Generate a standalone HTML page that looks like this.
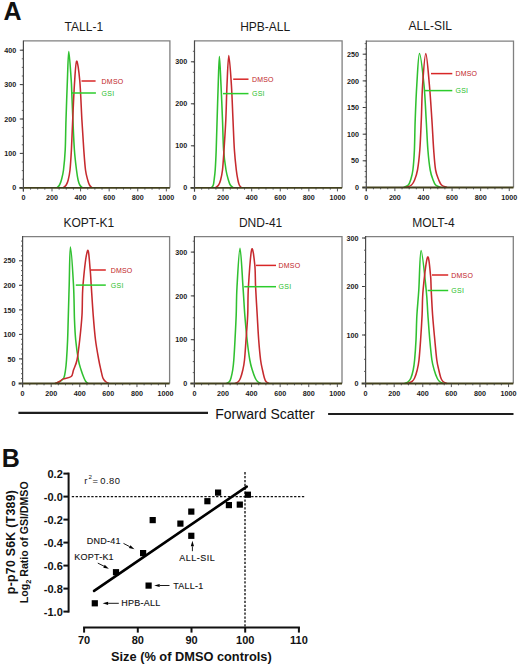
<!DOCTYPE html>
<html><head><meta charset="utf-8"><style>
html,body{margin:0;padding:0;background:#fff;}
body{width:520px;height:666px;overflow:hidden;font-family:"Liberation Sans",sans-serif;}
svg{display:block;}
</style></head><body>
<svg width="520" height="666" viewBox="0 0 520 666">
<rect width="520" height="666" fill="#fff"/>
<text x="3.4" y="19.9" font-family="Liberation Sans, sans-serif" font-size="25" font-weight="bold" fill="#111">A</text>
<g font-family="Liberation Sans, sans-serif">
<text x="64.6" y="30.6" font-size="12" fill="#1a1a1a">TALL-1</text>
<path d="M23.4,40.9 H169.9 V187.8" fill="none" stroke="#808080" stroke-width="1.3"/>
<path d="M57.00,187.80 C57.42,187.33 58.77,186.30 59.50,185.00 C60.23,183.70 60.73,182.50 61.40,180.00 C62.07,177.50 62.87,175.00 63.50,170.00 C64.13,165.00 64.78,158.33 65.20,150.00 C65.62,141.67 65.63,131.67 66.00,120.00 C66.37,108.33 66.93,91.40 67.40,80.00 C67.87,68.60 68.17,51.60 68.80,51.60 C69.43,51.60 70.70,73.10 71.20,80.00 C71.70,86.90 71.52,86.33 71.80,93.00 C72.08,99.67 72.47,110.50 72.90,120.00 C73.33,129.50 73.80,141.67 74.40,150.00 C75.00,158.33 75.88,165.00 76.50,170.00 C77.12,175.00 77.55,177.50 78.10,180.00 C78.65,182.50 79.07,183.70 79.80,185.00 C80.53,186.30 82.05,187.33 82.50,187.80" fill="none" stroke="#30c030" stroke-width="1.55" stroke-linejoin="round"/>
<path d="M63.00,187.80 C63.53,187.33 65.33,186.30 66.20,185.00 C67.07,183.70 67.57,182.50 68.20,180.00 C68.83,177.50 69.47,175.00 70.00,170.00 C70.53,165.00 70.95,158.33 71.40,150.00 C71.85,141.67 72.20,130.83 72.70,120.00 C73.20,109.17 73.75,94.80 74.40,85.00 C75.05,75.20 75.70,61.87 76.60,61.20 C77.50,60.53 78.92,71.20 79.80,81.00 C80.68,90.80 81.23,108.50 81.90,120.00 C82.57,131.50 83.20,141.67 83.80,150.00 C84.40,158.33 84.85,165.00 85.50,170.00 C86.15,175.00 87.03,177.50 87.70,180.00 C88.37,182.50 88.78,183.70 89.50,185.00 C90.22,186.30 91.58,187.33 92.00,187.80" fill="none" stroke="#c62a2e" stroke-width="1.55" stroke-linejoin="round"/>
<line x1="19.4" y1="187.8" x2="169.9" y2="187.8" stroke="#42401c" stroke-width="1.8"/>
<line x1="23.4" y1="40.4" x2="23.4" y2="191.6" stroke="#4a4a4a" stroke-width="1.2"/>
<line x1="19.8" y1="187.8" x2="23.4" y2="187.8" stroke="#3a3a3a" stroke-width="1"/>
<text x="16.2" y="190.4" font-size="7.2" font-weight="bold" text-anchor="end" fill="#1a1a1a">0</text>
<line x1="19.8" y1="153.4" x2="23.4" y2="153.4" stroke="#3a3a3a" stroke-width="1"/>
<text x="16.2" y="156.0" font-size="7.2" font-weight="bold" text-anchor="end" fill="#1a1a1a">100</text>
<line x1="19.8" y1="119.0" x2="23.4" y2="119.0" stroke="#3a3a3a" stroke-width="1"/>
<text x="16.2" y="121.6" font-size="7.2" font-weight="bold" text-anchor="end" fill="#1a1a1a">200</text>
<line x1="19.8" y1="84.6" x2="23.4" y2="84.6" stroke="#3a3a3a" stroke-width="1"/>
<text x="16.2" y="87.2" font-size="7.2" font-weight="bold" text-anchor="end" fill="#1a1a1a">300</text>
<line x1="19.8" y1="50.2" x2="23.4" y2="50.2" stroke="#3a3a3a" stroke-width="1"/>
<text x="16.2" y="52.8" font-size="7.2" font-weight="bold" text-anchor="end" fill="#1a1a1a">400</text>
<line x1="21.8" y1="187.8" x2="23.4" y2="187.8" stroke="#555" stroke-width="0.9"/>
<line x1="21.8" y1="179.2" x2="23.4" y2="179.2" stroke="#555" stroke-width="0.9"/>
<line x1="21.8" y1="170.6" x2="23.4" y2="170.6" stroke="#555" stroke-width="0.9"/>
<line x1="21.8" y1="162.0" x2="23.4" y2="162.0" stroke="#555" stroke-width="0.9"/>
<line x1="21.8" y1="153.4" x2="23.4" y2="153.4" stroke="#555" stroke-width="0.9"/>
<line x1="21.8" y1="144.8" x2="23.4" y2="144.8" stroke="#555" stroke-width="0.9"/>
<line x1="21.8" y1="136.2" x2="23.4" y2="136.2" stroke="#555" stroke-width="0.9"/>
<line x1="21.8" y1="127.6" x2="23.4" y2="127.6" stroke="#555" stroke-width="0.9"/>
<line x1="21.8" y1="119.0" x2="23.4" y2="119.0" stroke="#555" stroke-width="0.9"/>
<line x1="21.8" y1="110.4" x2="23.4" y2="110.4" stroke="#555" stroke-width="0.9"/>
<line x1="21.8" y1="101.8" x2="23.4" y2="101.8" stroke="#555" stroke-width="0.9"/>
<line x1="21.8" y1="93.2" x2="23.4" y2="93.2" stroke="#555" stroke-width="0.9"/>
<line x1="21.8" y1="84.6" x2="23.4" y2="84.6" stroke="#555" stroke-width="0.9"/>
<line x1="21.8" y1="76.0" x2="23.4" y2="76.0" stroke="#555" stroke-width="0.9"/>
<line x1="21.8" y1="67.4" x2="23.4" y2="67.4" stroke="#555" stroke-width="0.9"/>
<line x1="21.8" y1="58.8" x2="23.4" y2="58.8" stroke="#555" stroke-width="0.9"/>
<line x1="21.8" y1="50.2" x2="23.4" y2="50.2" stroke="#555" stroke-width="0.9"/>
<line x1="23.40" y1="187.8" x2="23.40" y2="191.4" stroke="#444" stroke-width="0.9"/>
<text x="23.40" y="200.0" font-size="7.2" font-weight="bold" text-anchor="middle" fill="#1a1a1a">0</text>
<line x1="30.55" y1="187.8" x2="30.55" y2="189.6" stroke="#444" stroke-width="0.9"/>
<line x1="37.70" y1="187.8" x2="37.70" y2="189.6" stroke="#444" stroke-width="0.9"/>
<line x1="44.84" y1="187.8" x2="44.84" y2="189.6" stroke="#444" stroke-width="0.9"/>
<line x1="51.99" y1="187.8" x2="51.99" y2="191.4" stroke="#444" stroke-width="0.9"/>
<text x="51.99" y="200.0" font-size="7.2" font-weight="bold" text-anchor="middle" fill="#1a1a1a">200</text>
<line x1="59.14" y1="187.8" x2="59.14" y2="189.6" stroke="#444" stroke-width="0.9"/>
<line x1="66.28" y1="187.8" x2="66.28" y2="189.6" stroke="#444" stroke-width="0.9"/>
<line x1="73.43" y1="187.8" x2="73.43" y2="189.6" stroke="#444" stroke-width="0.9"/>
<line x1="80.58" y1="187.8" x2="80.58" y2="191.4" stroke="#444" stroke-width="0.9"/>
<text x="80.58" y="200.0" font-size="7.2" font-weight="bold" text-anchor="middle" fill="#1a1a1a">400</text>
<line x1="87.73" y1="187.8" x2="87.73" y2="189.6" stroke="#444" stroke-width="0.9"/>
<line x1="94.88" y1="187.8" x2="94.88" y2="189.6" stroke="#444" stroke-width="0.9"/>
<line x1="102.02" y1="187.8" x2="102.02" y2="189.6" stroke="#444" stroke-width="0.9"/>
<line x1="109.17" y1="187.8" x2="109.17" y2="191.4" stroke="#444" stroke-width="0.9"/>
<text x="109.17" y="200.0" font-size="7.2" font-weight="bold" text-anchor="middle" fill="#1a1a1a">600</text>
<line x1="116.32" y1="187.8" x2="116.32" y2="189.6" stroke="#444" stroke-width="0.9"/>
<line x1="123.47" y1="187.8" x2="123.47" y2="189.6" stroke="#444" stroke-width="0.9"/>
<line x1="130.61" y1="187.8" x2="130.61" y2="189.6" stroke="#444" stroke-width="0.9"/>
<line x1="137.76" y1="187.8" x2="137.76" y2="191.4" stroke="#444" stroke-width="0.9"/>
<text x="137.76" y="200.0" font-size="7.2" font-weight="bold" text-anchor="middle" fill="#1a1a1a">800</text>
<line x1="144.91" y1="187.8" x2="144.91" y2="189.6" stroke="#444" stroke-width="0.9"/>
<line x1="152.06" y1="187.8" x2="152.06" y2="189.6" stroke="#444" stroke-width="0.9"/>
<line x1="159.20" y1="187.8" x2="159.20" y2="189.6" stroke="#444" stroke-width="0.9"/>
<line x1="166.35" y1="187.8" x2="166.35" y2="191.4" stroke="#444" stroke-width="0.9"/>
<text x="166.35" y="200.0" font-size="7.2" font-weight="bold" text-anchor="middle" fill="#1a1a1a">1000</text>
<line x1="81.5" y1="81.0" x2="95.6" y2="81.0" stroke="#d82626" stroke-width="1.5"/>
<text x="101.6" y="84.4" font-size="7" fill="#c01c26" letter-spacing="0.2">DMSO</text>
<line x1="71.0" y1="93.0" x2="95.9" y2="93.0" stroke="#2ccc2c" stroke-width="1.5"/>
<text x="101.6" y="95.6" font-size="7" fill="#28be28" letter-spacing="0.3">GSI</text>
<text x="240.2" y="30.6" font-size="12" fill="#1a1a1a">HPB-ALL</text>
<path d="M194.5,40.9 H342.1 V187.8" fill="none" stroke="#808080" stroke-width="1.3"/>
<path d="M211.50,187.80 C211.80,187.33 212.87,186.30 213.30,185.00 C213.73,183.70 213.78,182.50 214.10,180.00 C214.42,177.50 214.85,175.00 215.20,170.00 C215.55,165.00 215.88,158.33 216.20,150.00 C216.52,141.67 216.77,130.83 217.10,120.00 C217.43,109.17 217.82,95.60 218.20,85.00 C218.58,74.40 218.93,56.40 219.40,56.40 C219.87,56.40 220.48,74.40 221.00,85.00 C221.52,95.60 222.07,109.17 222.50,120.00 C222.93,130.83 223.02,141.67 223.60,150.00 C224.18,158.33 225.20,165.00 226.00,170.00 C226.80,175.00 227.68,177.50 228.40,180.00 C229.12,182.50 229.45,183.70 230.30,185.00 C231.15,186.30 232.97,187.33 233.50,187.80" fill="none" stroke="#30c030" stroke-width="1.55" stroke-linejoin="round"/>
<path d="M215.20,187.80 C215.77,187.33 217.70,186.30 218.60,185.00 C219.50,183.70 219.95,182.50 220.60,180.00 C221.25,177.50 221.93,175.00 222.50,170.00 C223.07,165.00 223.45,158.33 224.00,150.00 C224.55,141.67 225.30,130.83 225.80,120.00 C226.30,109.17 226.50,95.73 227.00,85.00 C227.50,74.27 228.07,55.60 228.80,55.60 C229.53,55.60 230.70,74.27 231.40,85.00 C232.10,95.73 232.50,109.17 233.00,120.00 C233.50,130.83 233.85,141.67 234.40,150.00 C234.95,158.33 235.72,165.00 236.30,170.00 C236.88,175.00 237.40,177.50 237.90,180.00 C238.40,182.50 238.70,183.70 239.30,185.00 C239.90,186.30 241.13,187.33 241.50,187.80" fill="none" stroke="#c62a2e" stroke-width="1.55" stroke-linejoin="round"/>
<line x1="190.5" y1="187.8" x2="342.1" y2="187.8" stroke="#42401c" stroke-width="1.8"/>
<line x1="194.5" y1="40.4" x2="194.5" y2="191.6" stroke="#4a4a4a" stroke-width="1.2"/>
<line x1="190.9" y1="187.8" x2="194.5" y2="187.8" stroke="#3a3a3a" stroke-width="1"/>
<text x="187.3" y="190.4" font-size="7.2" font-weight="bold" text-anchor="end" fill="#1a1a1a">0</text>
<line x1="190.9" y1="145.8" x2="194.5" y2="145.8" stroke="#3a3a3a" stroke-width="1"/>
<text x="187.3" y="148.4" font-size="7.2" font-weight="bold" text-anchor="end" fill="#1a1a1a">100</text>
<line x1="190.9" y1="103.8" x2="194.5" y2="103.8" stroke="#3a3a3a" stroke-width="1"/>
<text x="187.3" y="106.4" font-size="7.2" font-weight="bold" text-anchor="end" fill="#1a1a1a">200</text>
<line x1="190.9" y1="61.8" x2="194.5" y2="61.8" stroke="#3a3a3a" stroke-width="1"/>
<text x="187.3" y="64.4" font-size="7.2" font-weight="bold" text-anchor="end" fill="#1a1a1a">300</text>
<line x1="192.9" y1="187.8" x2="194.5" y2="187.8" stroke="#555" stroke-width="0.9"/>
<line x1="192.9" y1="177.3" x2="194.5" y2="177.3" stroke="#555" stroke-width="0.9"/>
<line x1="192.9" y1="166.8" x2="194.5" y2="166.8" stroke="#555" stroke-width="0.9"/>
<line x1="192.9" y1="156.3" x2="194.5" y2="156.3" stroke="#555" stroke-width="0.9"/>
<line x1="192.9" y1="145.8" x2="194.5" y2="145.8" stroke="#555" stroke-width="0.9"/>
<line x1="192.9" y1="135.3" x2="194.5" y2="135.3" stroke="#555" stroke-width="0.9"/>
<line x1="192.9" y1="124.8" x2="194.5" y2="124.8" stroke="#555" stroke-width="0.9"/>
<line x1="192.9" y1="114.3" x2="194.5" y2="114.3" stroke="#555" stroke-width="0.9"/>
<line x1="192.9" y1="103.8" x2="194.5" y2="103.8" stroke="#555" stroke-width="0.9"/>
<line x1="192.9" y1="93.3" x2="194.5" y2="93.3" stroke="#555" stroke-width="0.9"/>
<line x1="192.9" y1="82.8" x2="194.5" y2="82.8" stroke="#555" stroke-width="0.9"/>
<line x1="192.9" y1="72.3" x2="194.5" y2="72.3" stroke="#555" stroke-width="0.9"/>
<line x1="192.9" y1="61.8" x2="194.5" y2="61.8" stroke="#555" stroke-width="0.9"/>
<line x1="192.9" y1="51.3" x2="194.5" y2="51.3" stroke="#555" stroke-width="0.9"/>
<line x1="194.50" y1="187.8" x2="194.50" y2="191.4" stroke="#444" stroke-width="0.9"/>
<text x="194.50" y="200.0" font-size="7.2" font-weight="bold" text-anchor="middle" fill="#1a1a1a">0</text>
<line x1="201.65" y1="187.8" x2="201.65" y2="189.6" stroke="#444" stroke-width="0.9"/>
<line x1="208.79" y1="187.8" x2="208.79" y2="189.6" stroke="#444" stroke-width="0.9"/>
<line x1="215.94" y1="187.8" x2="215.94" y2="189.6" stroke="#444" stroke-width="0.9"/>
<line x1="223.09" y1="187.8" x2="223.09" y2="191.4" stroke="#444" stroke-width="0.9"/>
<text x="223.09" y="200.0" font-size="7.2" font-weight="bold" text-anchor="middle" fill="#1a1a1a">200</text>
<line x1="230.24" y1="187.8" x2="230.24" y2="189.6" stroke="#444" stroke-width="0.9"/>
<line x1="237.38" y1="187.8" x2="237.38" y2="189.6" stroke="#444" stroke-width="0.9"/>
<line x1="244.53" y1="187.8" x2="244.53" y2="189.6" stroke="#444" stroke-width="0.9"/>
<line x1="251.68" y1="187.8" x2="251.68" y2="191.4" stroke="#444" stroke-width="0.9"/>
<text x="251.68" y="200.0" font-size="7.2" font-weight="bold" text-anchor="middle" fill="#1a1a1a">400</text>
<line x1="258.83" y1="187.8" x2="258.83" y2="189.6" stroke="#444" stroke-width="0.9"/>
<line x1="265.98" y1="187.8" x2="265.98" y2="189.6" stroke="#444" stroke-width="0.9"/>
<line x1="273.12" y1="187.8" x2="273.12" y2="189.6" stroke="#444" stroke-width="0.9"/>
<line x1="280.27" y1="187.8" x2="280.27" y2="191.4" stroke="#444" stroke-width="0.9"/>
<text x="280.27" y="200.0" font-size="7.2" font-weight="bold" text-anchor="middle" fill="#1a1a1a">600</text>
<line x1="287.42" y1="187.8" x2="287.42" y2="189.6" stroke="#444" stroke-width="0.9"/>
<line x1="294.56" y1="187.8" x2="294.56" y2="189.6" stroke="#444" stroke-width="0.9"/>
<line x1="301.71" y1="187.8" x2="301.71" y2="189.6" stroke="#444" stroke-width="0.9"/>
<line x1="308.86" y1="187.8" x2="308.86" y2="191.4" stroke="#444" stroke-width="0.9"/>
<text x="308.86" y="200.0" font-size="7.2" font-weight="bold" text-anchor="middle" fill="#1a1a1a">800</text>
<line x1="316.01" y1="187.8" x2="316.01" y2="189.6" stroke="#444" stroke-width="0.9"/>
<line x1="323.15" y1="187.8" x2="323.15" y2="189.6" stroke="#444" stroke-width="0.9"/>
<line x1="330.30" y1="187.8" x2="330.30" y2="189.6" stroke="#444" stroke-width="0.9"/>
<line x1="337.45" y1="187.8" x2="337.45" y2="191.4" stroke="#444" stroke-width="0.9"/>
<text x="337.45" y="200.0" font-size="7.2" font-weight="bold" text-anchor="middle" fill="#1a1a1a">1000</text>
<line x1="233.2" y1="79.2" x2="248.5" y2="79.2" stroke="#d82626" stroke-width="1.5"/>
<text x="251.9" y="81.8" font-size="7" fill="#c01c26" letter-spacing="0.2">DMSO</text>
<line x1="223.0" y1="93.6" x2="248.5" y2="93.6" stroke="#2ccc2c" stroke-width="1.5"/>
<text x="251.9" y="96.2" font-size="7" fill="#28be28" letter-spacing="0.3">GSI</text>
<text x="408.6" y="30.4" font-size="12" fill="#1a1a1a">ALL-SIL</text>
<path d="M366.3,41.1 H513.5 V187.5" fill="none" stroke="#808080" stroke-width="1.3"/>
<path d="M403.80,187.50 C404.55,187.08 407.17,186.25 408.30,185.00 C409.43,183.75 409.83,182.50 410.60,180.00 C411.37,177.50 412.27,175.00 412.90,170.00 C413.53,165.00 414.02,158.33 414.40,150.00 C414.78,141.67 414.80,130.83 415.20,120.00 C415.60,109.17 416.08,96.10 416.80,85.00 C417.52,73.90 418.30,53.40 419.50,53.40 C420.70,53.40 422.88,73.90 424.00,85.00 C425.12,96.10 425.55,109.17 426.20,120.00 C426.85,130.83 427.23,141.67 427.90,150.00 C428.57,158.33 429.33,165.00 430.20,170.00 C431.07,175.00 432.20,177.50 433.10,180.00 C434.00,182.50 434.38,183.75 435.60,185.00 C436.82,186.25 439.60,187.08 440.40,187.50" fill="none" stroke="#30c030" stroke-width="1.55" stroke-linejoin="round"/>
<path d="M406.00,187.50 C406.92,187.08 410.07,186.25 411.50,185.00 C412.93,183.75 413.60,182.50 414.60,180.00 C415.60,177.50 416.63,175.00 417.50,170.00 C418.37,165.00 419.17,158.33 419.80,150.00 C420.43,141.67 420.83,130.83 421.30,120.00 C421.77,109.17 421.85,96.07 422.60,85.00 C423.35,73.93 424.67,53.60 425.80,53.60 C426.93,53.60 428.38,73.93 429.40,85.00 C430.42,96.07 431.18,109.17 431.90,120.00 C432.62,130.83 433.08,141.67 433.70,150.00 C434.32,158.33 434.75,165.00 435.60,170.00 C436.45,175.00 437.82,177.50 438.80,180.00 C439.78,182.50 440.13,183.75 441.50,185.00 C442.87,186.25 446.08,187.08 447.00,187.50" fill="none" stroke="#c62a2e" stroke-width="1.55" stroke-linejoin="round"/>
<line x1="362.3" y1="187.5" x2="513.5" y2="187.5" stroke="#42401c" stroke-width="1.8"/>
<line x1="366.3" y1="40.6" x2="366.3" y2="191.3" stroke="#4a4a4a" stroke-width="1.2"/>
<line x1="362.7" y1="187.5" x2="366.3" y2="187.5" stroke="#3a3a3a" stroke-width="1"/>
<text x="359.1" y="190.1" font-size="7.2" font-weight="bold" text-anchor="end" fill="#1a1a1a">0</text>
<line x1="362.7" y1="160.8" x2="366.3" y2="160.8" stroke="#3a3a3a" stroke-width="1"/>
<text x="359.1" y="163.4" font-size="7.2" font-weight="bold" text-anchor="end" fill="#1a1a1a">50</text>
<line x1="362.7" y1="134.2" x2="366.3" y2="134.2" stroke="#3a3a3a" stroke-width="1"/>
<text x="359.1" y="136.8" font-size="7.2" font-weight="bold" text-anchor="end" fill="#1a1a1a">100</text>
<line x1="362.7" y1="107.5" x2="366.3" y2="107.5" stroke="#3a3a3a" stroke-width="1"/>
<text x="359.1" y="110.1" font-size="7.2" font-weight="bold" text-anchor="end" fill="#1a1a1a">150</text>
<line x1="362.7" y1="80.9" x2="366.3" y2="80.9" stroke="#3a3a3a" stroke-width="1"/>
<text x="359.1" y="83.5" font-size="7.2" font-weight="bold" text-anchor="end" fill="#1a1a1a">200</text>
<line x1="362.7" y1="54.2" x2="366.3" y2="54.2" stroke="#3a3a3a" stroke-width="1"/>
<text x="359.1" y="56.9" font-size="7.2" font-weight="bold" text-anchor="end" fill="#1a1a1a">250</text>
<line x1="364.7" y1="187.5" x2="366.3" y2="187.5" stroke="#555" stroke-width="0.9"/>
<line x1="364.7" y1="182.2" x2="366.3" y2="182.2" stroke="#555" stroke-width="0.9"/>
<line x1="364.7" y1="176.8" x2="366.3" y2="176.8" stroke="#555" stroke-width="0.9"/>
<line x1="364.7" y1="171.5" x2="366.3" y2="171.5" stroke="#555" stroke-width="0.9"/>
<line x1="364.7" y1="166.2" x2="366.3" y2="166.2" stroke="#555" stroke-width="0.9"/>
<line x1="364.7" y1="160.8" x2="366.3" y2="160.8" stroke="#555" stroke-width="0.9"/>
<line x1="364.7" y1="155.5" x2="366.3" y2="155.5" stroke="#555" stroke-width="0.9"/>
<line x1="364.7" y1="150.2" x2="366.3" y2="150.2" stroke="#555" stroke-width="0.9"/>
<line x1="364.7" y1="144.9" x2="366.3" y2="144.9" stroke="#555" stroke-width="0.9"/>
<line x1="364.7" y1="139.5" x2="366.3" y2="139.5" stroke="#555" stroke-width="0.9"/>
<line x1="364.7" y1="134.2" x2="366.3" y2="134.2" stroke="#555" stroke-width="0.9"/>
<line x1="364.7" y1="128.9" x2="366.3" y2="128.9" stroke="#555" stroke-width="0.9"/>
<line x1="364.7" y1="123.5" x2="366.3" y2="123.5" stroke="#555" stroke-width="0.9"/>
<line x1="364.7" y1="118.2" x2="366.3" y2="118.2" stroke="#555" stroke-width="0.9"/>
<line x1="364.7" y1="112.9" x2="366.3" y2="112.9" stroke="#555" stroke-width="0.9"/>
<line x1="364.7" y1="107.5" x2="366.3" y2="107.5" stroke="#555" stroke-width="0.9"/>
<line x1="364.7" y1="102.2" x2="366.3" y2="102.2" stroke="#555" stroke-width="0.9"/>
<line x1="364.7" y1="96.9" x2="366.3" y2="96.9" stroke="#555" stroke-width="0.9"/>
<line x1="364.7" y1="91.6" x2="366.3" y2="91.6" stroke="#555" stroke-width="0.9"/>
<line x1="364.7" y1="86.2" x2="366.3" y2="86.2" stroke="#555" stroke-width="0.9"/>
<line x1="364.7" y1="80.9" x2="366.3" y2="80.9" stroke="#555" stroke-width="0.9"/>
<line x1="364.7" y1="75.6" x2="366.3" y2="75.6" stroke="#555" stroke-width="0.9"/>
<line x1="364.7" y1="70.2" x2="366.3" y2="70.2" stroke="#555" stroke-width="0.9"/>
<line x1="364.7" y1="64.9" x2="366.3" y2="64.9" stroke="#555" stroke-width="0.9"/>
<line x1="364.7" y1="59.6" x2="366.3" y2="59.6" stroke="#555" stroke-width="0.9"/>
<line x1="364.7" y1="54.2" x2="366.3" y2="54.2" stroke="#555" stroke-width="0.9"/>
<line x1="364.7" y1="48.9" x2="366.3" y2="48.9" stroke="#555" stroke-width="0.9"/>
<line x1="364.7" y1="43.6" x2="366.3" y2="43.6" stroke="#555" stroke-width="0.9"/>
<line x1="366.30" y1="187.5" x2="366.30" y2="191.1" stroke="#444" stroke-width="0.9"/>
<text x="366.30" y="199.7" font-size="7.2" font-weight="bold" text-anchor="middle" fill="#1a1a1a">0</text>
<line x1="373.45" y1="187.5" x2="373.45" y2="189.3" stroke="#444" stroke-width="0.9"/>
<line x1="380.60" y1="187.5" x2="380.60" y2="189.3" stroke="#444" stroke-width="0.9"/>
<line x1="387.74" y1="187.5" x2="387.74" y2="189.3" stroke="#444" stroke-width="0.9"/>
<line x1="394.89" y1="187.5" x2="394.89" y2="191.1" stroke="#444" stroke-width="0.9"/>
<text x="394.89" y="199.7" font-size="7.2" font-weight="bold" text-anchor="middle" fill="#1a1a1a">200</text>
<line x1="402.04" y1="187.5" x2="402.04" y2="189.3" stroke="#444" stroke-width="0.9"/>
<line x1="409.19" y1="187.5" x2="409.19" y2="189.3" stroke="#444" stroke-width="0.9"/>
<line x1="416.33" y1="187.5" x2="416.33" y2="189.3" stroke="#444" stroke-width="0.9"/>
<line x1="423.48" y1="187.5" x2="423.48" y2="191.1" stroke="#444" stroke-width="0.9"/>
<text x="423.48" y="199.7" font-size="7.2" font-weight="bold" text-anchor="middle" fill="#1a1a1a">400</text>
<line x1="430.63" y1="187.5" x2="430.63" y2="189.3" stroke="#444" stroke-width="0.9"/>
<line x1="437.77" y1="187.5" x2="437.77" y2="189.3" stroke="#444" stroke-width="0.9"/>
<line x1="444.92" y1="187.5" x2="444.92" y2="189.3" stroke="#444" stroke-width="0.9"/>
<line x1="452.07" y1="187.5" x2="452.07" y2="191.1" stroke="#444" stroke-width="0.9"/>
<text x="452.07" y="199.7" font-size="7.2" font-weight="bold" text-anchor="middle" fill="#1a1a1a">600</text>
<line x1="459.22" y1="187.5" x2="459.22" y2="189.3" stroke="#444" stroke-width="0.9"/>
<line x1="466.37" y1="187.5" x2="466.37" y2="189.3" stroke="#444" stroke-width="0.9"/>
<line x1="473.51" y1="187.5" x2="473.51" y2="189.3" stroke="#444" stroke-width="0.9"/>
<line x1="480.66" y1="187.5" x2="480.66" y2="191.1" stroke="#444" stroke-width="0.9"/>
<text x="480.66" y="199.7" font-size="7.2" font-weight="bold" text-anchor="middle" fill="#1a1a1a">800</text>
<line x1="487.81" y1="187.5" x2="487.81" y2="189.3" stroke="#444" stroke-width="0.9"/>
<line x1="494.96" y1="187.5" x2="494.96" y2="189.3" stroke="#444" stroke-width="0.9"/>
<line x1="502.10" y1="187.5" x2="502.10" y2="189.3" stroke="#444" stroke-width="0.9"/>
<line x1="509.25" y1="187.5" x2="509.25" y2="191.1" stroke="#444" stroke-width="0.9"/>
<text x="509.25" y="199.7" font-size="7.2" font-weight="bold" text-anchor="middle" fill="#1a1a1a">1000</text>
<line x1="431.0" y1="73.6" x2="452.3" y2="73.6" stroke="#d82626" stroke-width="1.5"/>
<text x="455.4" y="76.2" font-size="7" fill="#c01c26" letter-spacing="0.2">DMSO</text>
<line x1="424.6" y1="90.6" x2="452.3" y2="90.6" stroke="#2ccc2c" stroke-width="1.5"/>
<text x="455.4" y="93.2" font-size="7" fill="#28be28" letter-spacing="0.3">GSI</text>
<text x="63.5" y="226.9" font-size="12" fill="#1a1a1a">KOPT-K1</text>
<path d="M22.6,236.6 H169.6 V383.5" fill="none" stroke="#808080" stroke-width="1.3"/>
<path d="M55.00,383.50 C55.83,383.17 58.53,382.42 60.00,381.50 C61.47,380.58 62.88,379.92 63.80,378.00 C64.72,376.08 65.05,373.00 65.50,370.00 C65.95,367.00 66.15,365.00 66.50,360.00 C66.85,355.00 67.32,346.67 67.60,340.00 C67.88,333.33 67.93,329.17 68.20,320.00 C68.47,310.83 68.83,297.18 69.20,285.00 C69.57,272.82 69.68,246.90 70.40,246.90 C71.12,246.90 72.82,272.82 73.50,285.00 C74.18,297.18 74.13,310.83 74.50,320.00 C74.87,329.17 75.05,333.33 75.70,340.00 C76.35,346.67 77.50,355.00 78.40,360.00 C79.30,365.00 80.17,367.00 81.10,370.00 C82.03,373.00 83.22,376.08 84.00,378.00 C84.78,379.92 85.13,380.58 85.80,381.50 C86.47,382.42 87.63,383.17 88.00,383.50" fill="none" stroke="#30c030" stroke-width="1.55" stroke-linejoin="round"/>
<path d="M55.00,383.50 C55.75,383.17 58.13,382.27 59.50,381.50 C60.87,380.73 61.25,379.73 63.20,378.90 C65.15,378.07 69.48,377.98 71.20,376.50 C72.92,375.02 72.53,372.75 73.50,370.00 C74.47,367.25 75.97,365.00 77.00,360.00 C78.03,355.00 78.87,347.50 79.70,340.00 C80.53,332.50 81.45,324.17 82.00,315.00 C82.55,305.83 82.07,295.75 83.00,285.00 C83.93,274.25 86.40,253.00 87.60,250.50 C88.80,248.00 89.60,264.25 90.20,270.00 C90.80,275.75 90.70,277.50 91.20,285.00 C91.70,292.50 92.48,305.83 93.20,315.00 C93.92,324.17 94.57,332.50 95.50,340.00 C96.43,347.50 97.90,355.00 98.80,360.00 C99.70,365.00 100.22,367.00 100.90,370.00 C101.58,373.00 102.13,376.08 102.90,378.00 C103.67,379.92 104.48,380.58 105.50,381.50 C106.52,382.42 108.42,383.17 109.00,383.50" fill="none" stroke="#c62a2e" stroke-width="1.55" stroke-linejoin="round"/>
<line x1="18.6" y1="383.5" x2="169.6" y2="383.5" stroke="#42401c" stroke-width="1.8"/>
<line x1="22.6" y1="236.1" x2="22.6" y2="387.3" stroke="#4a4a4a" stroke-width="1.2"/>
<line x1="19.0" y1="383.5" x2="22.6" y2="383.5" stroke="#3a3a3a" stroke-width="1"/>
<text x="15.4" y="386.1" font-size="7.2" font-weight="bold" text-anchor="end" fill="#1a1a1a">0</text>
<line x1="19.0" y1="358.9" x2="22.6" y2="358.9" stroke="#3a3a3a" stroke-width="1"/>
<text x="15.4" y="361.6" font-size="7.2" font-weight="bold" text-anchor="end" fill="#1a1a1a">50</text>
<line x1="19.0" y1="334.4" x2="22.6" y2="334.4" stroke="#3a3a3a" stroke-width="1"/>
<text x="15.4" y="337.0" font-size="7.2" font-weight="bold" text-anchor="end" fill="#1a1a1a">100</text>
<line x1="19.0" y1="309.9" x2="22.6" y2="309.9" stroke="#3a3a3a" stroke-width="1"/>
<text x="15.4" y="312.5" font-size="7.2" font-weight="bold" text-anchor="end" fill="#1a1a1a">150</text>
<line x1="19.0" y1="285.3" x2="22.6" y2="285.3" stroke="#3a3a3a" stroke-width="1"/>
<text x="15.4" y="287.9" font-size="7.2" font-weight="bold" text-anchor="end" fill="#1a1a1a">200</text>
<line x1="19.0" y1="260.8" x2="22.6" y2="260.8" stroke="#3a3a3a" stroke-width="1"/>
<text x="15.4" y="263.4" font-size="7.2" font-weight="bold" text-anchor="end" fill="#1a1a1a">250</text>
<line x1="21.0" y1="383.5" x2="22.6" y2="383.5" stroke="#555" stroke-width="0.9"/>
<line x1="21.0" y1="378.6" x2="22.6" y2="378.6" stroke="#555" stroke-width="0.9"/>
<line x1="21.0" y1="373.7" x2="22.6" y2="373.7" stroke="#555" stroke-width="0.9"/>
<line x1="21.0" y1="368.8" x2="22.6" y2="368.8" stroke="#555" stroke-width="0.9"/>
<line x1="21.0" y1="363.9" x2="22.6" y2="363.9" stroke="#555" stroke-width="0.9"/>
<line x1="21.0" y1="358.9" x2="22.6" y2="358.9" stroke="#555" stroke-width="0.9"/>
<line x1="21.0" y1="354.0" x2="22.6" y2="354.0" stroke="#555" stroke-width="0.9"/>
<line x1="21.0" y1="349.1" x2="22.6" y2="349.1" stroke="#555" stroke-width="0.9"/>
<line x1="21.0" y1="344.2" x2="22.6" y2="344.2" stroke="#555" stroke-width="0.9"/>
<line x1="21.0" y1="339.3" x2="22.6" y2="339.3" stroke="#555" stroke-width="0.9"/>
<line x1="21.0" y1="334.4" x2="22.6" y2="334.4" stroke="#555" stroke-width="0.9"/>
<line x1="21.0" y1="329.5" x2="22.6" y2="329.5" stroke="#555" stroke-width="0.9"/>
<line x1="21.0" y1="324.6" x2="22.6" y2="324.6" stroke="#555" stroke-width="0.9"/>
<line x1="21.0" y1="319.7" x2="22.6" y2="319.7" stroke="#555" stroke-width="0.9"/>
<line x1="21.0" y1="314.8" x2="22.6" y2="314.8" stroke="#555" stroke-width="0.9"/>
<line x1="21.0" y1="309.8" x2="22.6" y2="309.8" stroke="#555" stroke-width="0.9"/>
<line x1="21.0" y1="304.9" x2="22.6" y2="304.9" stroke="#555" stroke-width="0.9"/>
<line x1="21.0" y1="300.0" x2="22.6" y2="300.0" stroke="#555" stroke-width="0.9"/>
<line x1="21.0" y1="295.1" x2="22.6" y2="295.1" stroke="#555" stroke-width="0.9"/>
<line x1="21.0" y1="290.2" x2="22.6" y2="290.2" stroke="#555" stroke-width="0.9"/>
<line x1="21.0" y1="285.3" x2="22.6" y2="285.3" stroke="#555" stroke-width="0.9"/>
<line x1="21.0" y1="280.4" x2="22.6" y2="280.4" stroke="#555" stroke-width="0.9"/>
<line x1="21.0" y1="275.5" x2="22.6" y2="275.5" stroke="#555" stroke-width="0.9"/>
<line x1="21.0" y1="270.6" x2="22.6" y2="270.6" stroke="#555" stroke-width="0.9"/>
<line x1="21.0" y1="265.7" x2="22.6" y2="265.7" stroke="#555" stroke-width="0.9"/>
<line x1="21.0" y1="260.7" x2="22.6" y2="260.7" stroke="#555" stroke-width="0.9"/>
<line x1="21.0" y1="255.8" x2="22.6" y2="255.8" stroke="#555" stroke-width="0.9"/>
<line x1="21.0" y1="250.9" x2="22.6" y2="250.9" stroke="#555" stroke-width="0.9"/>
<line x1="21.0" y1="246.0" x2="22.6" y2="246.0" stroke="#555" stroke-width="0.9"/>
<line x1="21.0" y1="241.1" x2="22.6" y2="241.1" stroke="#555" stroke-width="0.9"/>
<line x1="22.60" y1="383.5" x2="22.60" y2="387.1" stroke="#444" stroke-width="0.9"/>
<text x="22.60" y="395.7" font-size="7.2" font-weight="bold" text-anchor="middle" fill="#1a1a1a">0</text>
<line x1="29.75" y1="383.5" x2="29.75" y2="385.3" stroke="#444" stroke-width="0.9"/>
<line x1="36.90" y1="383.5" x2="36.90" y2="385.3" stroke="#444" stroke-width="0.9"/>
<line x1="44.04" y1="383.5" x2="44.04" y2="385.3" stroke="#444" stroke-width="0.9"/>
<line x1="51.19" y1="383.5" x2="51.19" y2="387.1" stroke="#444" stroke-width="0.9"/>
<text x="51.19" y="395.7" font-size="7.2" font-weight="bold" text-anchor="middle" fill="#1a1a1a">200</text>
<line x1="58.34" y1="383.5" x2="58.34" y2="385.3" stroke="#444" stroke-width="0.9"/>
<line x1="65.48" y1="383.5" x2="65.48" y2="385.3" stroke="#444" stroke-width="0.9"/>
<line x1="72.63" y1="383.5" x2="72.63" y2="385.3" stroke="#444" stroke-width="0.9"/>
<line x1="79.78" y1="383.5" x2="79.78" y2="387.1" stroke="#444" stroke-width="0.9"/>
<text x="79.78" y="395.7" font-size="7.2" font-weight="bold" text-anchor="middle" fill="#1a1a1a">400</text>
<line x1="86.93" y1="383.5" x2="86.93" y2="385.3" stroke="#444" stroke-width="0.9"/>
<line x1="94.07" y1="383.5" x2="94.07" y2="385.3" stroke="#444" stroke-width="0.9"/>
<line x1="101.22" y1="383.5" x2="101.22" y2="385.3" stroke="#444" stroke-width="0.9"/>
<line x1="108.37" y1="383.5" x2="108.37" y2="387.1" stroke="#444" stroke-width="0.9"/>
<text x="108.37" y="395.7" font-size="7.2" font-weight="bold" text-anchor="middle" fill="#1a1a1a">600</text>
<line x1="115.52" y1="383.5" x2="115.52" y2="385.3" stroke="#444" stroke-width="0.9"/>
<line x1="122.66" y1="383.5" x2="122.66" y2="385.3" stroke="#444" stroke-width="0.9"/>
<line x1="129.81" y1="383.5" x2="129.81" y2="385.3" stroke="#444" stroke-width="0.9"/>
<line x1="136.96" y1="383.5" x2="136.96" y2="387.1" stroke="#444" stroke-width="0.9"/>
<text x="136.96" y="395.7" font-size="7.2" font-weight="bold" text-anchor="middle" fill="#1a1a1a">800</text>
<line x1="144.11" y1="383.5" x2="144.11" y2="385.3" stroke="#444" stroke-width="0.9"/>
<line x1="151.25" y1="383.5" x2="151.25" y2="385.3" stroke="#444" stroke-width="0.9"/>
<line x1="158.40" y1="383.5" x2="158.40" y2="385.3" stroke="#444" stroke-width="0.9"/>
<line x1="165.55" y1="383.5" x2="165.55" y2="387.1" stroke="#444" stroke-width="0.9"/>
<text x="165.55" y="395.7" font-size="7.2" font-weight="bold" text-anchor="middle" fill="#1a1a1a">1000</text>
<line x1="90.7" y1="270.0" x2="105.8" y2="270.0" stroke="#d82626" stroke-width="1.5"/>
<text x="110.7" y="272.6" font-size="7" fill="#c01c26" letter-spacing="0.2">DMSO</text>
<line x1="75.8" y1="285.1" x2="105.8" y2="285.1" stroke="#2ccc2c" stroke-width="1.5"/>
<text x="110.7" y="287.7" font-size="7" fill="#28be28" letter-spacing="0.3">GSI</text>
<text x="238.9" y="226.9" font-size="12" fill="#1a1a1a">DND-41</text>
<path d="M194.4,236.6 H342.0 V383.5" fill="none" stroke="#808080" stroke-width="1.3"/>
<path d="M226.50,383.50 C227.00,383.17 228.75,382.42 229.50,381.50 C230.25,380.58 230.47,379.92 231.00,378.00 C231.53,376.08 232.23,373.00 232.70,370.00 C233.17,367.00 233.42,365.00 233.80,360.00 C234.18,355.00 234.60,347.50 235.00,340.00 C235.40,332.50 235.87,323.83 236.20,315.00 C236.53,306.17 236.37,298.13 237.00,287.00 C237.63,275.87 239.00,248.20 240.00,248.20 C241.00,248.20 242.20,275.87 243.00,287.00 C243.80,298.13 244.12,306.17 244.80,315.00 C245.48,323.83 246.27,332.50 247.10,340.00 C247.93,347.50 248.93,355.00 249.80,360.00 C250.67,365.00 251.40,367.00 252.30,370.00 C253.20,373.00 254.33,376.08 255.20,378.00 C256.07,379.92 256.53,380.58 257.50,381.50 C258.47,382.42 260.42,383.17 261.00,383.50" fill="none" stroke="#30c030" stroke-width="1.55" stroke-linejoin="round"/>
<path d="M235.00,383.50 C235.58,383.17 237.58,382.42 238.50,381.50 C239.42,380.58 239.78,379.92 240.50,378.00 C241.22,376.08 242.13,373.00 242.80,370.00 C243.47,367.00 243.97,365.00 244.50,360.00 C245.03,355.00 245.47,347.50 246.00,340.00 C246.53,332.50 247.30,323.83 247.70,315.00 C248.10,306.17 247.73,297.93 248.40,287.00 C249.07,276.07 250.63,253.07 251.70,249.40 C252.77,245.73 254.15,258.73 254.80,265.00 C255.45,271.27 255.20,278.67 255.60,287.00 C256.00,295.33 256.68,306.17 257.20,315.00 C257.72,323.83 258.13,332.50 258.70,340.00 C259.27,347.50 259.97,355.00 260.60,360.00 C261.23,365.00 261.87,367.00 262.50,370.00 C263.13,373.00 263.82,376.08 264.40,378.00 C264.98,379.92 265.23,380.58 266.00,381.50 C266.77,382.42 268.50,383.17 269.00,383.50" fill="none" stroke="#c62a2e" stroke-width="1.55" stroke-linejoin="round"/>
<line x1="190.4" y1="383.5" x2="342.0" y2="383.5" stroke="#42401c" stroke-width="1.8"/>
<line x1="194.4" y1="236.1" x2="194.4" y2="387.3" stroke="#4a4a4a" stroke-width="1.2"/>
<line x1="190.8" y1="383.5" x2="194.4" y2="383.5" stroke="#3a3a3a" stroke-width="1"/>
<text x="187.2" y="386.1" font-size="7.2" font-weight="bold" text-anchor="end" fill="#1a1a1a">0</text>
<line x1="190.8" y1="339.7" x2="194.4" y2="339.7" stroke="#3a3a3a" stroke-width="1"/>
<text x="187.2" y="342.3" font-size="7.2" font-weight="bold" text-anchor="end" fill="#1a1a1a">100</text>
<line x1="190.8" y1="295.9" x2="194.4" y2="295.9" stroke="#3a3a3a" stroke-width="1"/>
<text x="187.2" y="298.5" font-size="7.2" font-weight="bold" text-anchor="end" fill="#1a1a1a">200</text>
<line x1="190.8" y1="252.1" x2="194.4" y2="252.1" stroke="#3a3a3a" stroke-width="1"/>
<text x="187.2" y="254.7" font-size="7.2" font-weight="bold" text-anchor="end" fill="#1a1a1a">300</text>
<line x1="192.8" y1="383.5" x2="194.4" y2="383.5" stroke="#555" stroke-width="0.9"/>
<line x1="192.8" y1="372.6" x2="194.4" y2="372.6" stroke="#555" stroke-width="0.9"/>
<line x1="192.8" y1="361.6" x2="194.4" y2="361.6" stroke="#555" stroke-width="0.9"/>
<line x1="192.8" y1="350.7" x2="194.4" y2="350.7" stroke="#555" stroke-width="0.9"/>
<line x1="192.8" y1="339.7" x2="194.4" y2="339.7" stroke="#555" stroke-width="0.9"/>
<line x1="192.8" y1="328.8" x2="194.4" y2="328.8" stroke="#555" stroke-width="0.9"/>
<line x1="192.8" y1="317.8" x2="194.4" y2="317.8" stroke="#555" stroke-width="0.9"/>
<line x1="192.8" y1="306.9" x2="194.4" y2="306.9" stroke="#555" stroke-width="0.9"/>
<line x1="192.8" y1="295.9" x2="194.4" y2="295.9" stroke="#555" stroke-width="0.9"/>
<line x1="192.8" y1="285.0" x2="194.4" y2="285.0" stroke="#555" stroke-width="0.9"/>
<line x1="192.8" y1="274.0" x2="194.4" y2="274.0" stroke="#555" stroke-width="0.9"/>
<line x1="192.8" y1="263.1" x2="194.4" y2="263.1" stroke="#555" stroke-width="0.9"/>
<line x1="192.8" y1="252.1" x2="194.4" y2="252.1" stroke="#555" stroke-width="0.9"/>
<line x1="192.8" y1="241.2" x2="194.4" y2="241.2" stroke="#555" stroke-width="0.9"/>
<line x1="194.40" y1="383.5" x2="194.40" y2="387.1" stroke="#444" stroke-width="0.9"/>
<text x="194.40" y="395.7" font-size="7.2" font-weight="bold" text-anchor="middle" fill="#1a1a1a">0</text>
<line x1="201.55" y1="383.5" x2="201.55" y2="385.3" stroke="#444" stroke-width="0.9"/>
<line x1="208.69" y1="383.5" x2="208.69" y2="385.3" stroke="#444" stroke-width="0.9"/>
<line x1="215.84" y1="383.5" x2="215.84" y2="385.3" stroke="#444" stroke-width="0.9"/>
<line x1="222.99" y1="383.5" x2="222.99" y2="387.1" stroke="#444" stroke-width="0.9"/>
<text x="222.99" y="395.7" font-size="7.2" font-weight="bold" text-anchor="middle" fill="#1a1a1a">200</text>
<line x1="230.14" y1="383.5" x2="230.14" y2="385.3" stroke="#444" stroke-width="0.9"/>
<line x1="237.28" y1="383.5" x2="237.28" y2="385.3" stroke="#444" stroke-width="0.9"/>
<line x1="244.43" y1="383.5" x2="244.43" y2="385.3" stroke="#444" stroke-width="0.9"/>
<line x1="251.58" y1="383.5" x2="251.58" y2="387.1" stroke="#444" stroke-width="0.9"/>
<text x="251.58" y="395.7" font-size="7.2" font-weight="bold" text-anchor="middle" fill="#1a1a1a">400</text>
<line x1="258.73" y1="383.5" x2="258.73" y2="385.3" stroke="#444" stroke-width="0.9"/>
<line x1="265.88" y1="383.5" x2="265.88" y2="385.3" stroke="#444" stroke-width="0.9"/>
<line x1="273.02" y1="383.5" x2="273.02" y2="385.3" stroke="#444" stroke-width="0.9"/>
<line x1="280.17" y1="383.5" x2="280.17" y2="387.1" stroke="#444" stroke-width="0.9"/>
<text x="280.17" y="395.7" font-size="7.2" font-weight="bold" text-anchor="middle" fill="#1a1a1a">600</text>
<line x1="287.32" y1="383.5" x2="287.32" y2="385.3" stroke="#444" stroke-width="0.9"/>
<line x1="294.47" y1="383.5" x2="294.47" y2="385.3" stroke="#444" stroke-width="0.9"/>
<line x1="301.61" y1="383.5" x2="301.61" y2="385.3" stroke="#444" stroke-width="0.9"/>
<line x1="308.76" y1="383.5" x2="308.76" y2="387.1" stroke="#444" stroke-width="0.9"/>
<text x="308.76" y="395.7" font-size="7.2" font-weight="bold" text-anchor="middle" fill="#1a1a1a">800</text>
<line x1="315.91" y1="383.5" x2="315.91" y2="385.3" stroke="#444" stroke-width="0.9"/>
<line x1="323.06" y1="383.5" x2="323.06" y2="385.3" stroke="#444" stroke-width="0.9"/>
<line x1="330.20" y1="383.5" x2="330.20" y2="385.3" stroke="#444" stroke-width="0.9"/>
<line x1="337.35" y1="383.5" x2="337.35" y2="387.1" stroke="#444" stroke-width="0.9"/>
<text x="337.35" y="395.7" font-size="7.2" font-weight="bold" text-anchor="middle" fill="#1a1a1a">1000</text>
<line x1="256.0" y1="265.4" x2="276.0" y2="265.4" stroke="#d82626" stroke-width="1.5"/>
<text x="278.5" y="268.0" font-size="7" fill="#c01c26" letter-spacing="0.2">DMSO</text>
<line x1="244.2" y1="286.7" x2="276.0" y2="286.7" stroke="#2ccc2c" stroke-width="1.5"/>
<text x="278.5" y="289.3" font-size="7" fill="#28be28" letter-spacing="0.3">GSI</text>
<text x="412.2" y="226.9" font-size="12" fill="#1a1a1a">MOLT-4</text>
<path d="M365.6,236.6 H513.3 V383.5" fill="none" stroke="#808080" stroke-width="1.3"/>
<path d="M404.50,383.50 C405.17,383.17 407.43,382.42 408.50,381.50 C409.57,380.58 410.12,379.92 410.90,378.00 C411.68,376.08 412.58,373.00 413.20,370.00 C413.82,367.00 414.13,365.00 414.60,360.00 C415.07,355.00 415.62,347.50 416.00,340.00 C416.38,332.50 416.43,323.33 416.90,315.00 C417.37,306.67 418.10,300.75 418.80,290.00 C419.50,279.25 419.87,250.50 421.10,250.50 C422.33,250.50 425.07,279.25 426.20,290.00 C427.33,300.75 427.30,306.67 427.90,315.00 C428.50,323.33 429.13,332.50 429.80,340.00 C430.47,347.50 431.17,355.00 431.90,360.00 C432.63,365.00 433.33,367.00 434.20,370.00 C435.07,373.00 436.22,376.08 437.10,378.00 C437.98,379.92 438.43,380.58 439.50,381.50 C440.57,382.42 442.83,383.17 443.50,383.50" fill="none" stroke="#30c030" stroke-width="1.55" stroke-linejoin="round"/>
<path d="M407.00,383.50 C407.83,383.17 410.73,382.42 412.00,381.50 C413.27,380.58 413.73,379.92 414.60,378.00 C415.47,376.08 416.47,373.00 417.20,370.00 C417.93,367.00 418.43,365.00 419.00,360.00 C419.57,355.00 420.08,347.50 420.60,340.00 C421.12,332.50 421.68,323.33 422.10,315.00 C422.52,306.67 422.18,299.63 423.10,290.00 C424.02,280.37 426.37,259.70 427.60,257.20 C428.83,254.70 429.90,269.53 430.50,275.00 C431.10,280.47 430.85,283.33 431.20,290.00 C431.55,296.67 432.00,306.67 432.60,315.00 C433.20,323.33 434.10,332.50 434.80,340.00 C435.50,347.50 436.13,355.00 436.80,360.00 C437.47,365.00 438.12,367.00 438.80,370.00 C439.48,373.00 440.20,376.08 440.90,378.00 C441.60,379.92 441.98,380.58 443.00,381.50 C444.02,382.42 446.33,383.17 447.00,383.50" fill="none" stroke="#c62a2e" stroke-width="1.55" stroke-linejoin="round"/>
<line x1="361.6" y1="383.5" x2="513.3" y2="383.5" stroke="#42401c" stroke-width="1.8"/>
<line x1="365.6" y1="236.1" x2="365.6" y2="387.3" stroke="#4a4a4a" stroke-width="1.2"/>
<line x1="362.0" y1="383.5" x2="365.6" y2="383.5" stroke="#3a3a3a" stroke-width="1"/>
<text x="358.4" y="386.1" font-size="7.2" font-weight="bold" text-anchor="end" fill="#1a1a1a">0</text>
<line x1="362.0" y1="335.0" x2="365.6" y2="335.0" stroke="#3a3a3a" stroke-width="1"/>
<text x="358.4" y="337.6" font-size="7.2" font-weight="bold" text-anchor="end" fill="#1a1a1a">100</text>
<line x1="362.0" y1="286.5" x2="365.6" y2="286.5" stroke="#3a3a3a" stroke-width="1"/>
<text x="358.4" y="289.1" font-size="7.2" font-weight="bold" text-anchor="end" fill="#1a1a1a">200</text>
<line x1="362.0" y1="238.0" x2="365.6" y2="238.0" stroke="#3a3a3a" stroke-width="1"/>
<text x="358.4" y="240.6" font-size="7.2" font-weight="bold" text-anchor="end" fill="#1a1a1a">300</text>
<line x1="364.0" y1="383.5" x2="365.6" y2="383.5" stroke="#555" stroke-width="0.9"/>
<line x1="364.0" y1="371.4" x2="365.6" y2="371.4" stroke="#555" stroke-width="0.9"/>
<line x1="364.0" y1="359.3" x2="365.6" y2="359.3" stroke="#555" stroke-width="0.9"/>
<line x1="364.0" y1="347.1" x2="365.6" y2="347.1" stroke="#555" stroke-width="0.9"/>
<line x1="364.0" y1="335.0" x2="365.6" y2="335.0" stroke="#555" stroke-width="0.9"/>
<line x1="364.0" y1="322.9" x2="365.6" y2="322.9" stroke="#555" stroke-width="0.9"/>
<line x1="364.0" y1="310.8" x2="365.6" y2="310.8" stroke="#555" stroke-width="0.9"/>
<line x1="364.0" y1="298.7" x2="365.6" y2="298.7" stroke="#555" stroke-width="0.9"/>
<line x1="364.0" y1="286.5" x2="365.6" y2="286.5" stroke="#555" stroke-width="0.9"/>
<line x1="364.0" y1="274.4" x2="365.6" y2="274.4" stroke="#555" stroke-width="0.9"/>
<line x1="364.0" y1="262.3" x2="365.6" y2="262.3" stroke="#555" stroke-width="0.9"/>
<line x1="364.0" y1="250.2" x2="365.6" y2="250.2" stroke="#555" stroke-width="0.9"/>
<line x1="364.0" y1="238.1" x2="365.6" y2="238.1" stroke="#555" stroke-width="0.9"/>
<line x1="365.60" y1="383.5" x2="365.60" y2="387.1" stroke="#444" stroke-width="0.9"/>
<text x="365.60" y="395.7" font-size="7.2" font-weight="bold" text-anchor="middle" fill="#1a1a1a">0</text>
<line x1="372.75" y1="383.5" x2="372.75" y2="385.3" stroke="#444" stroke-width="0.9"/>
<line x1="379.90" y1="383.5" x2="379.90" y2="385.3" stroke="#444" stroke-width="0.9"/>
<line x1="387.04" y1="383.5" x2="387.04" y2="385.3" stroke="#444" stroke-width="0.9"/>
<line x1="394.19" y1="383.5" x2="394.19" y2="387.1" stroke="#444" stroke-width="0.9"/>
<text x="394.19" y="395.7" font-size="7.2" font-weight="bold" text-anchor="middle" fill="#1a1a1a">200</text>
<line x1="401.34" y1="383.5" x2="401.34" y2="385.3" stroke="#444" stroke-width="0.9"/>
<line x1="408.49" y1="383.5" x2="408.49" y2="385.3" stroke="#444" stroke-width="0.9"/>
<line x1="415.63" y1="383.5" x2="415.63" y2="385.3" stroke="#444" stroke-width="0.9"/>
<line x1="422.78" y1="383.5" x2="422.78" y2="387.1" stroke="#444" stroke-width="0.9"/>
<text x="422.78" y="395.7" font-size="7.2" font-weight="bold" text-anchor="middle" fill="#1a1a1a">400</text>
<line x1="429.93" y1="383.5" x2="429.93" y2="385.3" stroke="#444" stroke-width="0.9"/>
<line x1="437.08" y1="383.5" x2="437.08" y2="385.3" stroke="#444" stroke-width="0.9"/>
<line x1="444.22" y1="383.5" x2="444.22" y2="385.3" stroke="#444" stroke-width="0.9"/>
<line x1="451.37" y1="383.5" x2="451.37" y2="387.1" stroke="#444" stroke-width="0.9"/>
<text x="451.37" y="395.7" font-size="7.2" font-weight="bold" text-anchor="middle" fill="#1a1a1a">600</text>
<line x1="458.52" y1="383.5" x2="458.52" y2="385.3" stroke="#444" stroke-width="0.9"/>
<line x1="465.67" y1="383.5" x2="465.67" y2="385.3" stroke="#444" stroke-width="0.9"/>
<line x1="472.81" y1="383.5" x2="472.81" y2="385.3" stroke="#444" stroke-width="0.9"/>
<line x1="479.96" y1="383.5" x2="479.96" y2="387.1" stroke="#444" stroke-width="0.9"/>
<text x="479.96" y="395.7" font-size="7.2" font-weight="bold" text-anchor="middle" fill="#1a1a1a">800</text>
<line x1="487.11" y1="383.5" x2="487.11" y2="385.3" stroke="#444" stroke-width="0.9"/>
<line x1="494.25" y1="383.5" x2="494.25" y2="385.3" stroke="#444" stroke-width="0.9"/>
<line x1="501.40" y1="383.5" x2="501.40" y2="385.3" stroke="#444" stroke-width="0.9"/>
<line x1="508.55" y1="383.5" x2="508.55" y2="387.1" stroke="#444" stroke-width="0.9"/>
<text x="508.55" y="395.7" font-size="7.2" font-weight="bold" text-anchor="middle" fill="#1a1a1a">1000</text>
<line x1="432.0" y1="275.0" x2="448.2" y2="275.0" stroke="#d82626" stroke-width="1.5"/>
<text x="451.3" y="277.6" font-size="7" fill="#c01c26" letter-spacing="0.2">DMSO</text>
<line x1="427.6" y1="290.5" x2="448.2" y2="290.5" stroke="#2ccc2c" stroke-width="1.5"/>
<text x="451.3" y="293.1" font-size="7" fill="#28be28" letter-spacing="0.3">GSI</text>
</g>
<g stroke="#1e1e1e" stroke-width="2.1">
<line x1="18.4" y1="412.9" x2="208" y2="412.9"/>
<line x1="328.1" y1="414.0" x2="513.5" y2="414.0"/>
</g>
<text x="215.2" y="418.6" font-family="Liberation Sans, sans-serif" font-size="14" fill="#111">Forward Scatter</text>
<text x="1.7" y="466.8" font-family="Liberation Sans, sans-serif" font-size="25" font-weight="bold" fill="#111">B</text>
<g font-family="Liberation Sans, sans-serif">
<line x1="68.6" y1="472.6" x2="68.6" y2="612.6" stroke="#111" stroke-width="2"/>
<line x1="63.4" y1="473.6" x2="68.6" y2="473.6" stroke="#111" stroke-width="2"/>
<text x="62.8" y="477.5" font-size="11" font-weight="bold" text-anchor="end" fill="#111">0.2</text>
<line x1="63.4" y1="496.6" x2="68.6" y2="496.6" stroke="#111" stroke-width="2"/>
<text x="62.8" y="500.5" font-size="11" font-weight="bold" text-anchor="end" fill="#111">-0.0</text>
<line x1="63.4" y1="519.6" x2="68.6" y2="519.6" stroke="#111" stroke-width="2"/>
<text x="62.8" y="523.5" font-size="11" font-weight="bold" text-anchor="end" fill="#111">-0.2</text>
<line x1="63.4" y1="542.6" x2="68.6" y2="542.6" stroke="#111" stroke-width="2"/>
<text x="62.8" y="546.5" font-size="11" font-weight="bold" text-anchor="end" fill="#111">-0.4</text>
<line x1="63.4" y1="565.6" x2="68.6" y2="565.6" stroke="#111" stroke-width="2"/>
<text x="62.8" y="569.5" font-size="11" font-weight="bold" text-anchor="end" fill="#111">-0.6</text>
<line x1="63.4" y1="588.6" x2="68.6" y2="588.6" stroke="#111" stroke-width="2"/>
<text x="62.8" y="592.5" font-size="11" font-weight="bold" text-anchor="end" fill="#111">-0.8</text>
<line x1="63.4" y1="611.6" x2="68.6" y2="611.6" stroke="#111" stroke-width="2"/>
<text x="62.8" y="615.5" font-size="11" font-weight="bold" text-anchor="end" fill="#111">-1.0</text>
<line x1="83.1" y1="627.4" x2="299.9" y2="627.4" stroke="#111" stroke-width="2"/>
<line x1="84.1" y1="627.4" x2="84.1" y2="632.6" stroke="#111" stroke-width="2"/>
<text x="84.1" y="643.8" font-size="11" font-weight="bold" text-anchor="middle" fill="#111">70</text>
<line x1="137.8" y1="627.4" x2="137.8" y2="632.6" stroke="#111" stroke-width="2"/>
<text x="137.8" y="643.8" font-size="11" font-weight="bold" text-anchor="middle" fill="#111">80</text>
<line x1="191.5" y1="627.4" x2="191.5" y2="632.6" stroke="#111" stroke-width="2"/>
<text x="191.5" y="643.8" font-size="11" font-weight="bold" text-anchor="middle" fill="#111">90</text>
<line x1="245.2" y1="627.4" x2="245.2" y2="632.6" stroke="#111" stroke-width="2"/>
<text x="245.2" y="643.8" font-size="11" font-weight="bold" text-anchor="middle" fill="#111">100</text>
<line x1="298.9" y1="627.4" x2="298.9" y2="632.6" stroke="#111" stroke-width="2"/>
<text x="298.9" y="643.8" font-size="11" font-weight="bold" text-anchor="middle" fill="#111">110</text>
<line x1="71.8" y1="496.6" x2="305" y2="496.6" stroke="#111" stroke-width="1.35" stroke-dasharray="2.3,1.6"/>
<line x1="245.0" y1="472.1" x2="245.0" y2="626.4" stroke="#111" stroke-width="1.35" stroke-dasharray="2.3,1.6"/>
<line x1="94.1" y1="590.9" x2="246.7" y2="486.6" stroke="#000" stroke-width="2.6" stroke-linecap="round"/>
<rect x="91.7" y="600.2" width="6.2" height="6.2" fill="#000"/>
<rect x="112.9" y="569.1" width="6.2" height="6.2" fill="#000"/>
<rect x="140.0" y="550.0" width="6.2" height="6.2" fill="#000"/>
<rect x="145.5" y="582.5" width="6.2" height="6.2" fill="#000"/>
<rect x="149.6" y="517.0" width="6.2" height="6.2" fill="#000"/>
<rect x="177.3" y="520.5" width="6.2" height="6.2" fill="#000"/>
<rect x="188.2" y="508.5" width="6.2" height="6.2" fill="#000"/>
<rect x="188.2" y="532.7" width="6.2" height="6.2" fill="#000"/>
<rect x="204.3" y="498.1" width="6.2" height="6.2" fill="#000"/>
<rect x="215.0" y="489.5" width="6.2" height="6.2" fill="#000"/>
<rect x="225.8" y="502.0" width="6.2" height="6.2" fill="#000"/>
<rect x="236.7" y="501.5" width="6.2" height="6.2" fill="#000"/>
<rect x="244.8" y="491.6" width="6.2" height="6.2" fill="#000"/>
<line x1="118.8" y1="603.3" x2="108.1" y2="603.3" stroke="#000" stroke-width="0.9"/><path d="M102.6,603.3 L108.1,601.7 L108.1,604.9 Z" fill="#000"/>
<text x="121.3" y="605.9" font-size="9" fill="#111" stroke="#111" stroke-width="0.12" letter-spacing="0.22">HPB-ALL</text>
<line x1="169.5" y1="585.5" x2="159.7" y2="585.5" stroke="#000" stroke-width="0.9"/><path d="M154.2,585.5 L159.7,583.9 L159.7,587.1 Z" fill="#000"/>
<text x="173.3" y="588.9" font-size="9" fill="#111" stroke="#111" stroke-width="0.12" letter-spacing="0.22">TALL-1</text>
<line x1="97.8" y1="563.1" x2="104.0" y2="566.2" stroke="#000" stroke-width="0.9"/><path d="M108.9,568.7 L103.3,567.7 L104.7,564.8 Z" fill="#000"/>
<text x="74.3" y="559.7" font-size="9" fill="#111" stroke="#111" stroke-width="0.12" letter-spacing="0.22">KOPT-K1</text>
<line x1="123.5" y1="543.4" x2="129.6" y2="546.6" stroke="#000" stroke-width="0.9"/><path d="M134.5,549.2 L128.9,548.1 L130.4,545.2 Z" fill="#000"/>
<text x="86.8" y="543.5" font-size="9" fill="#111" stroke="#111" stroke-width="0.12" letter-spacing="0.22">DND-41</text>
<line x1="192.4" y1="551.2" x2="192.4" y2="546.3" stroke="#000" stroke-width="0.9"/><path d="M192.4,540.8 L194.0,546.3 L190.8,546.3 Z" fill="#000"/>
<text x="179.3" y="560.8" font-size="9" fill="#111" stroke="#111" stroke-width="0.12" letter-spacing="0.5">ALL-SIL</text>
<text x="84.3" y="483.8" font-size="9.4" fill="#111">r</text>
<text x="88.6" y="479.4" font-size="6.2" fill="#111">2</text>
<text x="92.6" y="483.8" font-size="9.4" fill="#111">=</text>
<text x="100.3" y="483.8" font-size="9.4" fill="#111" letter-spacing="0.5">0.80</text>
<text x="111" y="661.1" font-size="12.8" font-weight="bold" fill="#111">Size (% of DMSO controls)</text>
<text transform="translate(14.8,542.0) rotate(-90)" font-size="12.3" letter-spacing="0.28" font-weight="bold" text-anchor="middle" fill="#111">p-p70 S6K (T389)</text>
<text transform="translate(28.0,542.3) rotate(-90)" font-size="10.6" font-weight="bold" text-anchor="middle" fill="#111">Log<tspan font-size="7.5" dy="2.5">2</tspan><tspan dy="-2.5"> Ratio of GSI/DMSO</tspan></text>
</g>
</svg>
</body></html>
